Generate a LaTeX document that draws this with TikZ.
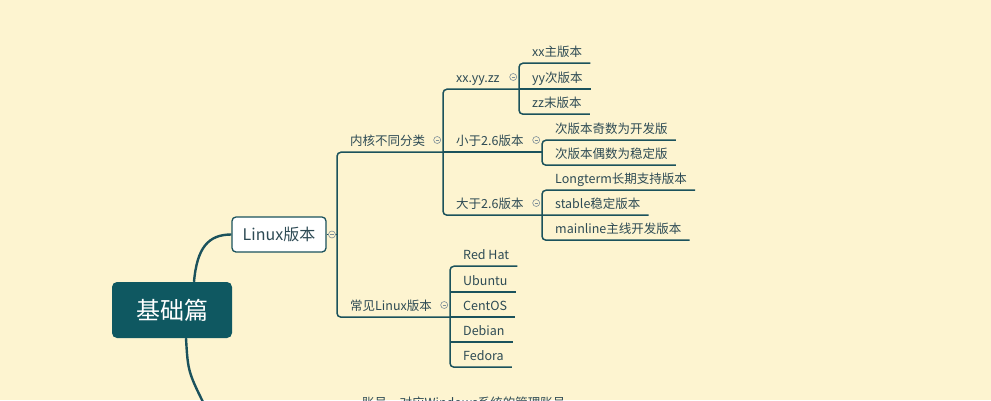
\documentclass[tikz,border=0pt]{standalone}
\usepackage{fontspec}
\newfontfamily\cjk{Noto Sans CJK SC}
\usetikzlibrary{positioning,calc}
\definecolor{bg}{HTML}{FDF4D0}
\definecolor{mmline}{HTML}{1B525C}
\definecolor{mmroot}{HTML}{0F5861}
\definecolor{mmtext}{HTML}{2D4A54}
\definecolor{mmgray}{HTML}{7D8E98}

\begin{document}
\begin{tikzpicture}[x=1pt,y=-1pt,
    ln/.style={draw=mmline,line width=1.5pt},
    br/.style={ln,rounded corners=4pt},
    topic/.style={anchor=west,inner xsep=8pt,inner ysep=0pt,minimum height=24pt,text=mmtext,
      text height=12.5pt,text depth=2.5pt,
      font=\cjk\fontsize{12.5}{14}\selectfont,execute at begin node={\hspace*{5pt}}},
    fold/.style={circle,draw=mmgray,fill=bg,line width=.6pt,minimum size=7pt,inner sep=0pt,
      path picture={\draw[mmgray,line width=.6pt]([xshift=-1.7pt]path picture bounding box.center)--([xshift=1.7pt]path picture bounding box.center);}}]
    \fill[bg](0,0)rectangle(991,400);
    \clip(0,0)rectangle(991,400);

    \node[rounded corners=5pt,fill=mmroot,text=white,minimum width=120pt,minimum height=56pt,
      font=\cjk\fontsize{24}{28}\selectfont] (jc) at (172,310) {基础篇};
    \node[rounded corners=4pt,draw=mmline,line width=1.3pt,fill=white,minimum width=94pt,minimum height=35pt,
      text=mmtext,font=\cjk\fontsize{16}{18}\selectfont] (lx) at (279,234.5) {Linux版本};
    \coordinate (nx) at (207,410);
    \draw[mmline,line width=2.4pt]([xshift=22pt]jc.north) .. controls (197,248) and (208,234.5) .. (lx.west);
    \draw[mmline,line width=2.4pt]([xshift=14pt]jc.south) .. controls (188,372) .. (nx);

    % second level
    \node[topic] (k1) at (337,140) {内核不同分类};
    \node[topic] (k2) at (337,305) {常见Linux版本};
    % kernel
    \node[topic] (v1) at (443,77) {xx.yy.zz};
    \node[topic] (v2) at (443,140) {小于2.6版本};
    \node[topic] (v3) at (443,203) {大于2.6版本};
    \node[topic] (x1) at (519,51) {xx主版本};
    \node[topic] (x2) at (519,77) {yy次版本};
    \node[topic] (x3) at (519,102) {zz末版本};
    \node[topic] (w1) at (542,128) {次版本奇数为开发版};
    \node[topic] (w2) at (542,153) {次版本偶数为稳定版};
    \node[topic] (s1) at (542,178) {Longterm长期支持版本};
    \node[topic] (s2) at (542,203) {stable稳定版本};
    \node[topic] (s3) at (542,228) {mainline主线开发版本};
    % distributions
    \node[topic] (d1) at (450,254) {Red Hat};
    \node[topic] (d2) at (450,280) {Ubuntu};
    \node[topic] (d3) at (450,305) {CentOS};
    \node[topic] (d4) at (450,330) {Debian};
    \node[topic] (d5) at (450,355) {Fedora};
    \node[topic] (zh) at (349,402) {账号，对应Windows系统的管理账号};

    \draw[ln](lx.east)--(lx.east-|k1.south west);
    \draw[br](v2.south west)--(k1.south west)--(k2.south west)--(d3.south west);
    \draw[ln](v2.south west)--(v2.south-|w1.south west);
    \draw[br](x2.south west)--(v1.south west)--(v3.south west)--(s2.south east);
    \draw[br](x1.south east)--(x1.south west)--(x3.south west)--(x3.south east);
    \draw[ln](x2.south west)--(x2.south east);
    \draw[br](w1.south east)--(w1.south west)--(w2.south west)--(w2.south east);
    \draw[br](s1.south east)--(s1.south west)--(s3.south west)--(s3.south east);
    \draw[br](d1.south east)--(d1.south west)--(d5.south west)--(d5.south east);
    \draw[ln](d2.south west)--(d2.south east);
    \draw[ln](d3.south west)--(d3.south east);
    \draw[ln](d4.south west)--(d4.south east);

    % fold marks
    \node[fold,right=1.5pt] at (lx.east) {};
    \node[fold,left=2pt] at (k1-|v1.west) {};
    \node[fold,left=2pt] at (k2-|d1.west) {};
    \node[fold,left=2pt] at (v1-|x1.west) {};
    \node[fold,left=2pt] at (v2-|w1.west) {};
    \node[fold,left=2pt] at (v3-|s1.west) {};
\end{tikzpicture}
\end{document}
